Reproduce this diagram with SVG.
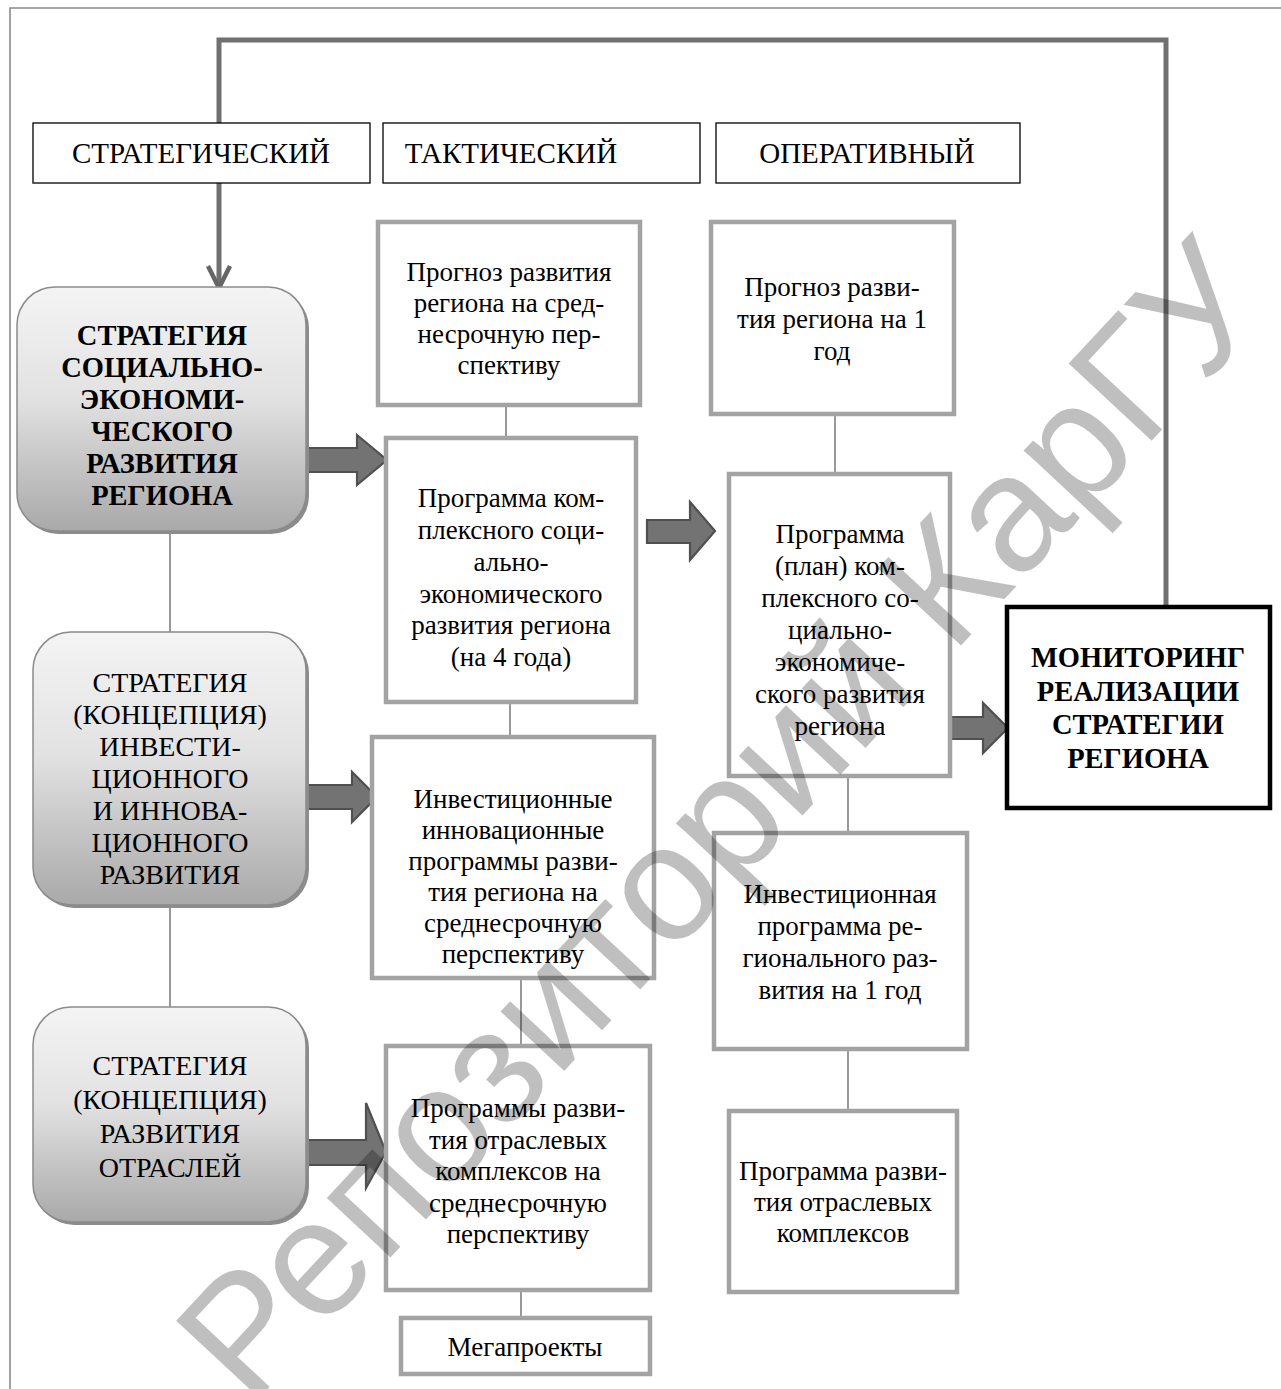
<svg xmlns="http://www.w3.org/2000/svg" width="1281" height="1389" viewBox="0 0 1281 1389">
<defs>
<linearGradient id="g" x1="0" y1="0" x2="0" y2="1">
<stop offset="0" stop-color="#f4f4f4"/>
<stop offset="0.45" stop-color="#e2e2e2"/>
<stop offset="1" stop-color="#a9a9a9"/>
</linearGradient>
<style>
text{font-family:"Liberation Serif","Times New Roman",serif;fill:#000;text-anchor:middle}
.hd{font-size:29px}
.bx{font-size:27px}
.lb{font-size:28px}
.bd{font-size:28.5px;font-weight:bold}
.hbox{fill:#fff;stroke:#000;stroke-width:1.3}
.gbox{fill:#fff;stroke:#a3a3a3;stroke-width:4.5}
.rbox{fill:url(#g);stroke:#8a8a8a;stroke-width:1.5}
.shadow{fill:#8c8c8c}
.thin{stroke:#7f7f7f;stroke-width:1.6;fill:none}
.blk{fill:#737373;stroke:#505050;stroke-width:2.2;stroke-linejoin:miter}
.fb{stroke:#707070;stroke-width:5;fill:none}
.wm{font-family:"Liberation Sans",Arial,sans-serif;font-size:165px;fill:#000;fill-opacity:0.25;text-anchor:start}
</style>
</defs>
<rect width="1281" height="1389" fill="#fff"/>
<path d="M10,1389 V8 H1281" fill="none" stroke="#8a8a8a" stroke-width="1.6"/>

<g id="connectors">
<path class="fb" d="M1166,606 V40 H219 V288"/>
<path d="M208,266 L219,288 L230,266" fill="none" stroke="#666" stroke-width="4.5" stroke-linejoin="miter"/>
<line class="thin" x1="170" y1="531" x2="170" y2="632"/>
<line class="thin" x1="170" y1="905" x2="170" y2="1007"/>
<line class="thin" x1="506" y1="405" x2="506" y2="440"/>
<line class="thin" x1="510" y1="702" x2="510" y2="738"/>
<line class="thin" x1="521" y1="978" x2="521" y2="1047"/>
<line class="thin" x1="521" y1="1290" x2="521" y2="1319"/>
<line class="thin" x1="835" y1="414" x2="835" y2="475"/>
<line class="thin" x1="848" y1="776" x2="848" y2="833"/>
<line class="thin" x1="848" y1="1048" x2="848" y2="1111"/>
<polygon class="blk" points="305,448 357,448 357,435 387,460 357,485 357,472 305,472"/>
<polygon class="blk" points="647,520 690,520 690,502 715,531 690,560 690,543 647,543"/>
<polygon class="blk" points="938,717 983,717 983,703 1008,728 983,753 983,739 938,739"/>
<polygon class="blk" points="305,785 352,785 352,772 377,797 352,822 352,809 305,809"/>
<polygon class="blk" points="302,1140 366,1140 366,1103 386,1152 366,1188 366,1165 302,1165"/>
</g>

<g id="h-strat"><rect class="hbox" x="33" y="123" width="337" height="60"/><text class="hd" x="201" y="163">СТРАТЕГИЧЕСКИЙ</text></g>
<g id="h-takt"><rect class="hbox" x="383" y="123" width="317" height="60"/><text class="hd" x="511" y="163">ТАКТИЧЕСКИЙ</text></g>
<g id="h-oper"><rect class="hbox" x="716" y="123" width="304" height="60"/><text class="hd" x="867" y="163">ОПЕРАТИВНЫЙ</text></g>

<g id="s-soc">
<rect class="shadow" x="20" y="290" width="289" height="244" rx="38"/>
<rect class="rbox" x="17" y="287" width="289" height="244" rx="38"/>
<text class="bd"><tspan x="162" y="345">СТРАТЕГИЯ</tspan><tspan x="162" y="377">СОЦИАЛЬНО-</tspan><tspan x="162" y="409">ЭКОНОМИ-</tspan><tspan x="162" y="441">ЧЕСКОГО</tspan><tspan x="162" y="473">РАЗВИТИЯ</tspan><tspan x="162" y="505">РЕГИОНА</tspan></text>
</g>
<g id="s-inv">
<rect class="shadow" x="36" y="635" width="273" height="273" rx="38"/>
<rect class="rbox" x="33" y="632" width="273" height="273" rx="38"/>
<text class="lb"><tspan x="170" y="692">СТРАТЕГИЯ</tspan><tspan x="170" y="724">(КОНЦЕПЦИЯ)</tspan><tspan x="170" y="756">ИНВЕСТИ-</tspan><tspan x="170" y="788">ЦИОННОГО</tspan><tspan x="170" y="820">И  ИННОВА-</tspan><tspan x="170" y="852">ЦИОННОГО</tspan><tspan x="170" y="884">РАЗВИТИЯ</tspan></text>
</g>
<g id="s-otr">
<rect class="shadow" x="36" y="1010" width="273" height="215" rx="38"/>
<rect class="rbox" x="33" y="1007" width="273" height="215" rx="38"/>
<text class="lb"><tspan x="170" y="1075">СТРАТЕГИЯ</tspan><tspan x="170" y="1109">(КОНЦЕПЦИЯ)</tspan><tspan x="170" y="1143">РАЗВИТИЯ</tspan><tspan x="170" y="1177">ОТРАСЛЕЙ</tspan></text>
</g>

<g id="t-prog">
<rect class="gbox" x="378" y="222" width="262" height="183"/>
<text class="bx"><tspan x="509" y="281">Прогноз развития</tspan><tspan x="509" y="312">региона на сред-</tspan><tspan x="509" y="343">несрочную пер-</tspan><tspan x="509" y="374">спективу</tspan></text>
</g>
<g id="t-kompl">
<rect class="gbox" x="386" y="438" width="250" height="264"/>
<text class="bx"><tspan x="511" y="507">Программа ком-</tspan><tspan x="511" y="539">плексного соци-</tspan><tspan x="511" y="571">ально-</tspan><tspan x="511" y="603">экономического</tspan><tspan x="511" y="634">развития региона</tspan><tspan x="511" y="666">(на 4 года)</tspan></text>
</g>
<g id="t-inv">
<rect class="gbox" x="372" y="737" width="282" height="241"/>
<text class="bx"><tspan x="513" y="808">Инвестиционные</tspan><tspan x="513" y="839">инновационные</tspan><tspan x="513" y="870">программы разви-</tspan><tspan x="513" y="901">тия региона на</tspan><tspan x="513" y="932">среднесрочную</tspan><tspan x="513" y="963">перспективу</tspan></text>
</g>
<g id="t-otr">
<rect class="gbox" x="386" y="1046" width="264" height="244"/>
<text class="bx"><tspan x="518" y="1117">Программы разви-</tspan><tspan x="518" y="1149">тия отраслевых</tspan><tspan x="518" y="1180">комплексов на</tspan><tspan x="518" y="1212">среднесрочную</tspan><tspan x="518" y="1243">перспективу</tspan></text>
</g>
<g id="t-mega">
<rect class="gbox" x="401" y="1318" width="249" height="56"/>
<text class="bx" x="525" y="1356">Мегапроекты</text>
</g>

<g id="o-prog">
<rect class="gbox" x="711" y="222" width="243" height="192"/>
<text class="bx"><tspan x="832" y="296">Прогноз разви-</tspan><tspan x="832" y="328">тия региона на 1</tspan><tspan x="832" y="360">год</tspan></text>
</g>
<g id="o-plan">
<rect class="gbox" x="729" y="474" width="221" height="302"/>
<text class="bx"><tspan x="840" y="543">Программа</tspan><tspan x="840" y="575">(план) ком-</tspan><tspan x="840" y="607">плексного со-</tspan><tspan x="840" y="639">циально-</tspan><tspan x="840" y="671">экономиче-</tspan><tspan x="840" y="703">ского развития</tspan><tspan x="840" y="735">региона</tspan></text>
</g>
<g id="o-inv">
<rect class="gbox" x="714" y="833" width="253" height="216"/>
<text class="bx"><tspan x="840" y="903">Инвестиционная</tspan><tspan x="840" y="935">программа ре-</tspan><tspan x="840" y="967">гионального раз-</tspan><tspan x="840" y="999">вития на 1 год</tspan></text>
</g>
<g id="o-otr">
<rect class="gbox" x="729" y="1111" width="228" height="181"/>
<text class="bx"><tspan x="843" y="1180">Программа разви-</tspan><tspan x="843" y="1211">тия отраслевых</tspan><tspan x="843" y="1242">комплексов</tspan></text>
</g>

<g id="monitoring">
<rect x="1007" y="607" width="263" height="201" fill="#fff" stroke="#000" stroke-width="4.5"/>
<text class="bd"><tspan x="1138" y="667">МОНИТОРИНГ</tspan><tspan x="1138" y="701">РЕАЛИЗАЦИИ</tspan><tspan x="1138" y="734">СТРАТЕГИИ</tspan><tspan x="1138" y="768">РЕГИОНА</tspan></text>
</g>

<text class="wm" transform="translate(250,1408) rotate(-47)">Репозиторий КарГУ</text>
</svg>
